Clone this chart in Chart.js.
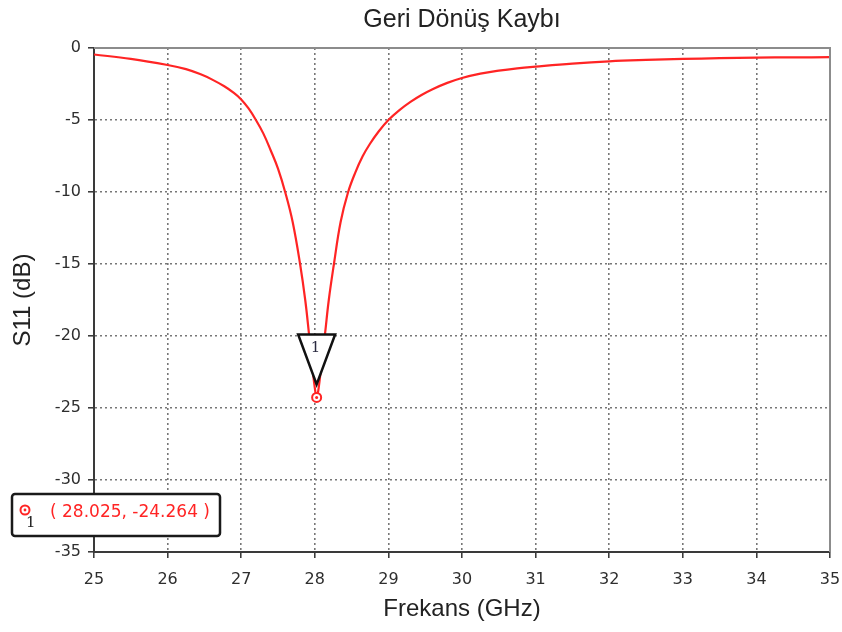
<!DOCTYPE html>
<html>
<head>
<meta charset="utf-8">
<title>Geri Dönüş Kaybı</title>
<script src="https://cdn.jsdelivr.net/npm/chart.js@4/dist/chart.umd.min.js"></script>
<style>
  html, body { margin: 0; padding: 0; background: #ffffff; }
  #wrap { width: 842px; height: 632px; }
</style>
</head>
<body>
<div id="wrap"><canvas id="chart" width="842" height="632"></canvas></div>
<script>
// S11 sweep (GHz, dB)
const frequencies = [
  25.0, 25.5, 26.0, 26.25, 26.45, 26.6, 26.77, 26.9, 27.0, 27.1,
  27.2, 27.3, 27.4, 27.5, 27.6, 27.7, 27.8, 27.87, 27.92, 27.97,
  28.0, 28.025, 28.05, 28.09, 28.14, 28.19, 28.26, 28.35, 28.45, 28.55,
  28.65, 28.75, 28.87, 29.0, 29.15, 29.3, 29.45, 29.6, 29.8, 30.0,
  30.25, 30.5, 30.75, 31.0, 31.5, 32.0, 32.5, 33.0, 33.5, 34.0,
  34.5, 35.0
];
const s11Values = [
  -0.45, -0.75, -1.18, -1.47, -1.83, -2.18, -2.66, -3.12, -3.57, -4.2,
  -5.0, -5.93, -7.1, -8.38, -10.05, -12.1, -15.0, -17.5, -19.8, -22.3,
  -23.6, -24.264, -23.7, -22.0, -19.8, -17.5, -15.0, -12.1, -10.05, -8.65,
  -7.52, -6.65, -5.78, -5.0, -4.31, -3.74, -3.26, -2.86, -2.42, -2.08,
  -1.78, -1.57, -1.41, -1.29, -1.08, -0.925, -0.83, -0.76, -0.71, -0.67,
  -0.65, -0.64
];

// Marker 1
const markerFreq = 28.025;
const markerValue = -24.264;
const markerLabel = '1';

// Axis ticks
const xTicks = [25, 26, 27, 28, 29, 30, 31, 32, 33, 34, 35];
const yTicks = [0, -5, -10, -15, -20, -25, -30, -35];

const RED = '#ff2424';
const TICK_FONT = { family: 'DejaVu Sans', size: 16 };

// Solid grey frame on the top and right edges of the plot
const framePlugin = {
  id: 'frame',
  afterDatasetsDraw(chart) {
    const { ctx, chartArea: a } = chart;
    ctx.save();
    ctx.strokeStyle = '#8c8c8c';
    ctx.lineWidth = 2;
    ctx.beginPath();
    ctx.moveTo(a.left, a.top);
    ctx.lineTo(a.right, a.top);
    ctx.lineTo(a.right, a.bottom);
    ctx.stroke();
    ctx.restore();
  }
};

// Triangle flag above the marker point plus the marker readout box
const markerPlugin = {
  id: 'marker',
  afterDraw(chart) {
    const { ctx } = chart;
    const pt = chart.getDatasetMeta(1).data[0];
    const px = pt.x, py = pt.y;

    // flag
    const tipY = py - 13, topY = py - 63, half = 18.5;
    ctx.save();
    ctx.beginPath();
    ctx.moveTo(px - half, topY);
    ctx.lineTo(px + half, topY);
    ctx.lineTo(px, tipY);
    ctx.closePath();
    ctx.fillStyle = '#ffffff';
    ctx.fill();
    ctx.lineWidth = 2.5;
    ctx.lineJoin = 'miter';
    ctx.strokeStyle = '#111111';
    ctx.stroke();
    ctx.fillStyle = '#2a2a40';
    ctx.font = '15px "DejaVu Serif"';
    ctx.textAlign = 'center';
    ctx.textBaseline = 'middle';
    ctx.fillText(markerLabel, px - 1, topY + 14);

    // marker point
    ctx.beginPath();
    ctx.arc(px, py, 4.5, 0, Math.PI * 2);
    ctx.fillStyle = '#ffffff';
    ctx.fill();
    ctx.lineWidth = 2;
    ctx.strokeStyle = RED;
    ctx.stroke();
    ctx.beginPath();
    ctx.arc(px, py, 1.5, 0, Math.PI * 2);
    ctx.fillStyle = RED;
    ctx.fill();

    // readout box
    const bx = 12, by = 494, bw = 208, bh = 42;
    ctx.beginPath();
    ctx.roundRect(bx, by, bw, bh, 3);
    ctx.fillStyle = '#ffffff';
    ctx.fill();
    ctx.lineWidth = 2.5;
    ctx.strokeStyle = '#1a1a1a';
    ctx.stroke();

    ctx.beginPath();
    ctx.arc(25, 510, 4.5, 0, Math.PI * 2);
    ctx.lineWidth = 2;
    ctx.strokeStyle = RED;
    ctx.stroke();
    ctx.beginPath();
    ctx.arc(25, 510, 1.4, 0, Math.PI * 2);
    ctx.fillStyle = RED;
    ctx.fill();
    ctx.fillStyle = '#222222';
    ctx.font = '15px "DejaVu Serif"';
    ctx.textAlign = 'left';
    ctx.textBaseline = 'middle';
    ctx.fillText(markerLabel, 26, 523);

    ctx.fillStyle = RED;
    ctx.font = '17px "DejaVu Sans"';
    ctx.textAlign = 'left';
    ctx.textBaseline = 'middle';
    ctx.fillText('( ' + markerFreq.toFixed(3) + ', ' + markerValue.toFixed(3) + ' )', 50, 513);
    ctx.restore();
  }
};

const curve = frequencies.map((f, i) => ({ x: f, y: s11Values[i] }));

new Chart(document.getElementById('chart'), {
  type: 'scatter',
  data: {
    datasets: [
      {
        data: curve,
        showLine: true,
        borderColor: RED,
        borderWidth: 2.2,
        pointRadius: 0,
        pointHoverRadius: 0,
        tension: 0.4,
        fill: false
      },
      {
        data: [{ x: markerFreq, y: markerValue }],
        showLine: false,
        pointRadius: 0,
        pointHoverRadius: 0
      }
    ]
  },
  options: {
    responsive: false,
    animation: false,
    devicePixelRatio: 1,
    layout: { padding: { left: 0, right: 12, top: 0, bottom: 0 } },
    plugins: {
      legend: { display: false },
      tooltip: { enabled: false },
      title: {
        display: true,
        fullSize: false,
        text: 'Geri Dönüş Kaybı',
        color: '#222222',
        font: { family: 'Liberation Sans', size: 25, weight: 'normal', lineHeight: 1.2 },
        padding: { top: 5, bottom: 13 }
      }
    },
    scales: {
      x: {
        type: 'linear',
        min: 25,
        max: 35,
        afterBuildTicks: (s) => { s.ticks = xTicks.map(v => ({ value: v })); },
        afterFit: (s) => { s.height = 80; s.paddingLeft = 0; s.paddingRight = 0; },
        ticks: { color: '#2e2e2e', font: TICK_FONT, padding: 12, maxRotation: 0 },
        grid: { color: '#777777', lineWidth: 1.6, tickColor: '#333333', tickLength: 6, tickWidth: 1.5 },
        border: { display: true, color: '#3a3a3a', width: 2, dash: [2, 3] },
        title: {
          display: true,
          text: 'Frekans (GHz)',
          color: '#222222',
          font: { family: 'Liberation Sans', size: 24, lineHeight: 1.2 },
          padding: { top: 0, bottom: 8 }
        }
      },
      y: {
        type: 'linear',
        min: -35,
        max: 0,
        afterBuildTicks: (s) => { s.ticks = yTicks.map(v => ({ value: v })); },
        afterFit: (s) => { s.width = 94; },
        ticks: { color: '#2e2e2e', font: TICK_FONT, padding: 7 },
        grid: { color: '#777777', lineWidth: 1.6, tickColor: '#333333', tickLength: 6, tickWidth: 1.5 },
        border: { display: true, color: '#3a3a3a', width: 2, dash: [2, 3] },
        title: {
          display: true,
          text: 'S11 (dB)',
          color: '#222222',
          font: { family: 'Liberation Sans', size: 24, lineHeight: 1.2 },
          padding: { top: 9, bottom: 0 }
        }
      }
    }
  },
  plugins: [framePlugin, markerPlugin]
});
</script>
</body>
</html>
